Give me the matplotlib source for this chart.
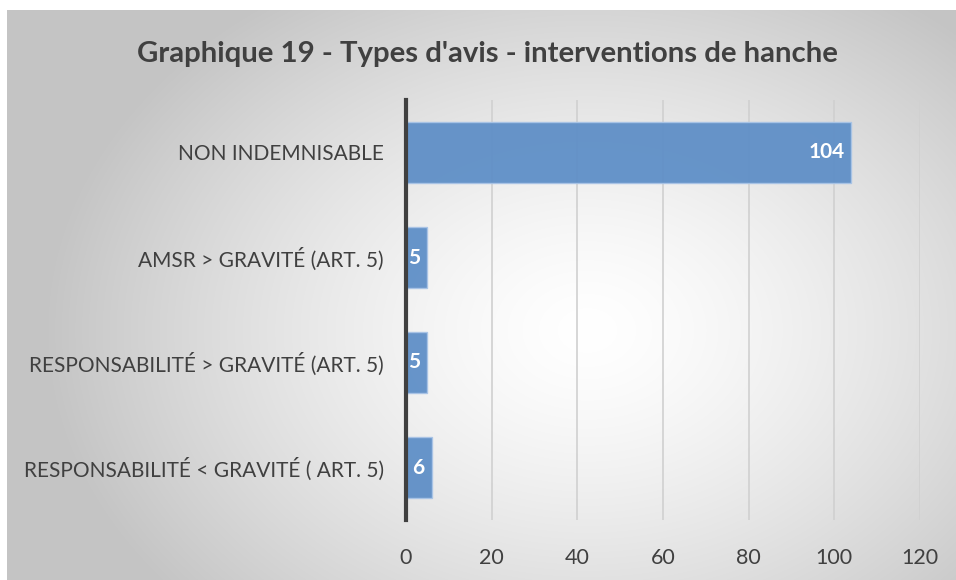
import numpy as np
import matplotlib
matplotlib.use("Agg")
import matplotlib.pyplot as plt

categories = [
    "NON INDEMNISABLE",
    "AMSR > GRAVITÉ (ART. 5)",
    "RESPONSABILITÉ > GRAVITÉ (ART. 5)",
    "RESPONSABILITÉ < GRAVITÉ ( ART. 5)",
]
values = [104, 5, 5, 6]
xticks = [0, 20, 40, 60, 80, 100, 120]
title = "Graphique 19 - Types d'avis - interventions de hanche"

plt.rcParams["font.family"] = ["Lato", "DejaVu Sans"]

W, H = 956, 580
fig = plt.figure(figsize=(W / 100, H / 100), dpi=100)

# radial gradient background of the chart area
bg = fig.add_axes([7 / W, 0, 1 - 7 / W, 1 - 10 / H])
yy, xx = np.mgrid[0:570, 0:949]
cx, cy = 580, 320
r = np.sqrt(((xx - cx) / 560.0) ** 2 + ((yy - cy) / 420.0) ** 2)
g = np.clip(1.0 - 0.24 * r ** 1.4, 0.77, 1.0)
bg.imshow(np.dstack([g, g, g]), aspect="auto", extent=[0, 1, 0, 1], origin="upper")
bg.set_axis_off()

ax = fig.add_axes([406 / W, 1 - 520 / H, (920 - 406) / W, (520 - 100) / H])
ax.patch.set_alpha(0)

y = np.arange(len(categories))
ax.barh(y, values, height=0.59, color="#5f8fc7", edgecolor="#a9c4e6",
        linewidth=1.0, alpha=0.95, zorder=3)
ax.set_ylim(len(categories) - 0.5, -0.5)
ax.set_xlim(0, 120)
ax.set_xticks(xticks)
ax.set_xticklabels([str(t) for t in xticks], fontsize=15.5, color="#404040")
ax.set_yticks(y)
ax.set_yticklabels(categories, fontsize=15, color="#404040")
ax.tick_params(axis="y", length=0, pad=16)
ax.tick_params(axis="x", length=0, pad=20)
ax.grid(axis="x", color="#d0d0d0", linewidth=1.2, zorder=0)
for s in ["top", "right", "bottom"]:
    ax.spines[s].set_visible(False)
ax.spines["left"].set_color("#404040")
ax.spines["left"].set_linewidth(3)
ax.spines["left"].set_zorder(4)

for yi, v in zip(y, values):
    ax.annotate(str(v), (v, yi), xytext=(-5, 0), textcoords="offset points",
                ha="right", va="center", color="white",
                fontsize=15, fontweight="bold", zorder=5)

fig.text(487 / W, 1 - 54 / H, title, ha="center", va="center",
         fontsize=21.2, fontweight="bold", color="#404040")

fig.savefig("out.png", dpi=100)
